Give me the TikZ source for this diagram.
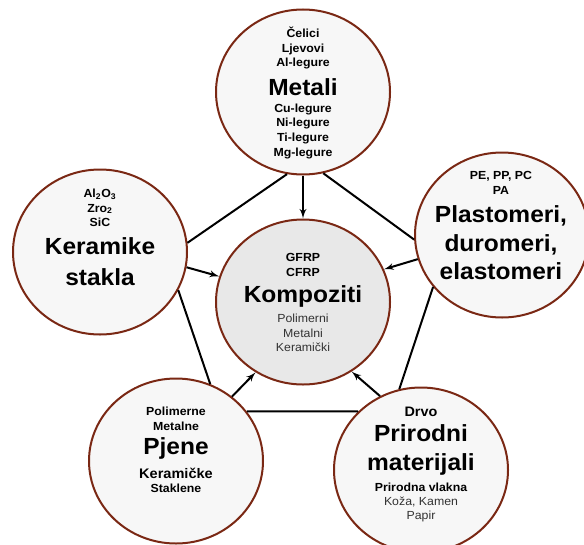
\documentclass[tikz,border=0pt]{standalone}
\usepackage{fontspec}
\setmainfont{Liberation Sans}[FakeStretch=1.05]
\usetikzlibrary{shapes.geometric}
\usetikzlibrary{arrows}

\definecolor{smeda}{RGB}{122,40,20}
\definecolor{svijetla}{RGB}{247,247,247}
\definecolor{siva}{RGB}{232,232,232}

\begin{document}
\begin{tikzpicture}[x=0.75pt, y=0.75pt, >=latex', line width=1.5pt,
  krug/.style={ellipse, draw=smeda, line width=1.5pt, minimum width=130.5pt,
    minimum height=123.75pt, fill=svijetla},
  mali/.style={align=center, inner sep=0pt, font=\fontsize{8.8}{11}\selectfont\bfseries},
  obicni/.style={align=center, inner sep=0pt, text=black!80, font=\fontsize{8.8}{11}\selectfont},
  veliki/.style={align=center, inner sep=0pt, font=\fontsize{17.5}{22}\selectfont\bfseries}]

      \useasboundingbox (0,0) rectangle (584,544);

      % metali
      \node[krug] (metali) at (303,452) {};
      \node[mali] (metaliG) at (303,496) {Čelici\\Ljevovi\\Al-legure};
      \node[veliki] (metaliN) at (303,457) {Metali};
      \node[mali] (metaliD) at (303,413) {Cu-legure\\Ni-legure\\Ti-legure\\Mg-legure};

      % keramike
      \node[krug] (keramike) at (100,292) {};
      \node[mali] (keramikeG) at (100,336)
      {Al\textsubscript{2}O\textsubscript{3}\\Zro\textsubscript{2}\\SiC};
      \node[veliki, font=\fontsize{17.5}{23}\selectfont\bfseries] (keramikeN) at (100,282.5)
      {Keramike\\stakla};

      % plastomeri
      \node[krug] (plastomeri) at (502,309) {};
      \node[mali] (plastomeriG) at (501,361) {PE, PP, PC\\PA};
      \node[veliki, font=\fontsize{17.5}{21.4}\selectfont\bfseries] (plastomeriN) at (501,301)
      {Plastomeri,\\duromeri,\\elastomeri};

      % kompoziti
      \node[krug, fill=siva] (kompoziti) at (303,242) {};
      \node[mali] (kompozitiG) at (303,279) {GFRP\\CFRP};
      \node[veliki] (kompozitiN) at (303,248) {Kompoziti};
      \node[obicni] (kompozitiD) at (303,211) {Polimerni\\Metalni\\Keramički};

      % pjene
      \node[krug] (pjene) at (176,83) {};
      \node[mali] (pjeneG) at (176,125.5) {Polimerne\\Metalne};
      \node[veliki] (pjeneN) at (176,96) {Pjene};
      \node[mali, font=\fontsize{10.4}{12}\selectfont\bfseries] (pjeneK) at (176,71) {Keramičke};
      \node[mali] (pjeneS) at (176,56) {Staklene};

      % prirodni
      \node[krug] (prirodni) at (421,74) {};
      \node[mali, font=\fontsize{10.3}{12}\selectfont\bfseries] (prirodniG) at (421,132) {Drvo};
      \node[veliki, font=\fontsize{17.5}{21.75}\selectfont\bfseries] (prirodniN) at (421,94.5)
      {Prirodni\\materijali};
      \node[mali] (prirodniV) at (421,57) {Prirodna vlakna};
      \node[obicni] (prirodniD) at (421,34.5) {Koža, Kamen\\Papir};

      % peterokut
      \draw (metali.259) -- (keramike.6.6);
      \draw (metali.284) -- (plastomeri.183);
      \draw (keramike.334) -- (pjene.66);
      \draw (plastomeri.217) -- (prirodni.105.5);
      \draw (pjene.35) -- (prirodni.137);

      % prema kompozitima
      \draw [->] (metali.south) -- (kompoziti.north);
      \draw [->] (keramike.350) -- (kompoziti.163);
      \draw [->] (plastomeri.196.7) -- (kompoziti.22.6);
      \draw [->] (pjene.49.7) -- (kompoziti.236.5);
      \draw [->] (prirodni.119.8) -- (kompoziti.305.5);
    \end{tikzpicture}
\end{document}
